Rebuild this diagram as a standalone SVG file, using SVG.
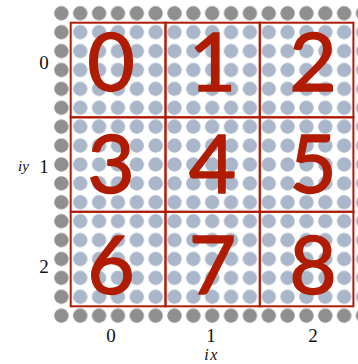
<svg xmlns="http://www.w3.org/2000/svg" width="358" height="364" viewBox="0 0 358 364">
  <style>
    .cell { fill: none; stroke: #b01c0a; stroke-width: 2; }
    .big { font-family: Lato, "Liberation Sans", sans-serif; font-weight: 400; font-size: 82px; fill: #b01c02; stroke: #b01c02; stroke-width: 1.4; stroke-linejoin: round; text-anchor: middle; }
    .lab { font-family: "Liberation Serif", "DejaVu Serif", serif; font-size: 19px; fill: #111; text-anchor: middle; }
    .it { font-family: "Liberation Serif", "DejaVu Serif", serif; font-style: italic; fill: #111; }
  </style>
  <defs>
    <pattern id="darkDots" patternUnits="userSpaceOnUse" x="51.975" y="3.85" width="18.85" height="18.9">
      <rect width="18.85" height="18.9" fill="#fff"/>
      <circle cx="9.425" cy="9.45" r="7.2" fill="#8f8f8f"/>
    </pattern>
    <pattern id="lightDots" patternUnits="userSpaceOnUse" x="51.975" y="3.85" width="18.85" height="18.9">
      <rect width="18.85" height="18.9" fill="#fff"/>
      <circle cx="9.425" cy="9.45" r="7.2" fill="#aab6c9"/>
    </pattern>
  </defs>
  <rect width="358" height="364" fill="#fff"/>
  <g id="dots">
    <rect x="51.975" y="3.85" width="320.45" height="321.3" fill="url(#darkDots)"/>
    <rect x="70.825" y="22.75" width="301.6" height="283.5" fill="url(#lightDots)"/>
  </g>
  <g id="cell0"><rect class="cell" x="70.7" y="22.7" width="94.8" height="94.6"/><text class="big" x="111" y="91">0</text></g>
  <g id="cell1"><rect class="cell" x="165.5" y="22.7" width="94.3" height="94.6"/><text class="big" x="212.5" y="91">1</text></g>
  <g id="cell2"><rect class="cell" x="259.8" y="22.7" width="93.6" height="94.6"/><text class="big" x="313" y="91">2</text></g>
  <g id="cell3"><rect class="cell" x="70.7" y="117.3" width="94.8" height="94.5"/><text class="big" x="111" y="193">3</text></g>
  <g id="cell4"><rect class="cell" x="165.5" y="117.3" width="94.3" height="94.5"/><text class="big" x="212.5" y="193">4</text></g>
  <g id="cell5"><rect class="cell" x="259.8" y="117.3" width="93.6" height="94.5"/><text class="big" x="313" y="193">5</text></g>
  <g id="cell6"><rect class="cell" x="70.7" y="211.8" width="94.8" height="94.5"/><text class="big" x="111" y="294">6</text></g>
  <g id="cell7"><rect class="cell" x="165.5" y="211.8" width="94.3" height="94.5"/><text class="big" x="212.5" y="294">7</text></g>
  <g id="cell8"><rect class="cell" x="259.8" y="211.8" width="93.6" height="94.5"/><text class="big" x="313" y="294">8</text></g>
  <g id="connectors"/>
  <g id="axis-y">
    <text class="lab" x="44" y="69">0</text>
    <text class="lab" x="44" y="173.3">1</text>
    <text class="lab" x="44" y="273.3">2</text>
    <text class="it" x="18" y="171" font-size="15">iy</text>
  </g>
  <g id="axis-x">
    <text class="lab" x="111" y="341.5">0</text>
    <text class="lab" x="211" y="341.5">1</text>
    <text class="lab" x="313" y="341.5">2</text>
    <text class="it" x="211.5" y="360" font-size="16" text-anchor="middle" letter-spacing="1.5">ix</text>
  </g>
</svg>
